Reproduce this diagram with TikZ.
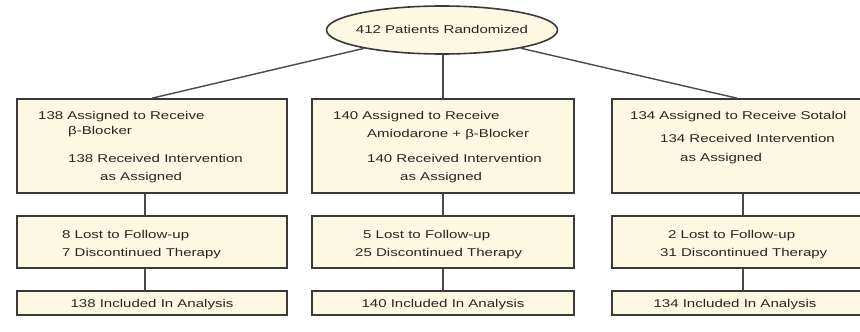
\documentclass[tikz,border=0pt]{standalone}
\usepackage{fontspec}
\setmainfont{Liberation Sans}[FakeStretch=1.33]
\usetikzlibrary{shapes.geometric}
\definecolor{boxfill}{HTML}{FDF8E2}
\definecolor{boxline}{HTML}{3A3A3A}
\definecolor{conn}{HTML}{4A4A4A}
\tikzset{
  flowbox/.style={draw=boxline, line width=1.6pt, fill=boxfill, inner sep=0pt},
  txt/.style={anchor=base west, inner sep=0pt, font=\fontsize{11.3}{13}\selectfont, text=black!85},
  ctxt/.style={anchor=base, inner sep=0pt, font=\fontsize{11.3}{13}\selectfont, text=black!85},
  link/.style={draw=conn, line width=1.4pt}
}
\begin{document}
\begin{tikzpicture}[x=1pt,y=-1pt]
\useasboundingbox (0,0) rectangle (860,332);
% ellipse
\node[flowbox, ellipse, minimum width=231pt, minimum height=48pt] (e) at (442,30) {};
\node[ctxt] (et) at (442,34) {412 Patients Randomized};
% row 1 boxes
\node[flowbox, minimum width=270pt, minimum height=94pt] (b11) at (152,146) {};
\node[flowbox, minimum width=262pt, minimum height=94pt] (b21) at (443,146) {};
\node[flowbox, minimum width=256pt, minimum height=94pt] (b31) at (740,146) {};
% row 2 boxes
\node[flowbox, minimum width=270pt, minimum height=52pt] (b12) at (152,242) {};
\node[flowbox, minimum width=262pt, minimum height=52pt] (b22) at (443,242) {};
\node[flowbox, minimum width=256pt, minimum height=52pt] (b32) at (740,242) {};
% row 3 boxes
\node[flowbox, minimum width=270pt, minimum height=24pt] (b13) at (152,303) {};
\node[flowbox, minimum width=262pt, minimum height=24pt] (b23) at (443,303) {};
\node[flowbox, minimum width=256pt, minimum height=24pt] (b33) at (740,303) {};
% connectors
\draw[link] (e) -- (b11.north);
\draw[link] ([xshift=1pt]e.south) -- (b21.north);
\draw[link] (e) -- ([xshift=-3pt]b31.north);
\draw[link] ([xshift=-7pt]b11.south) -- ([xshift=-7pt]b12.north);
\draw[link] ([xshift=-7pt]b12.south) -- ([xshift=-7pt]b13.north);
\draw[link] (b21.south) -- (b22.north);
\draw[link] (b22.south) -- (b23.north);
\draw[link] ([xshift=3pt]b31.south) -- ([xshift=3pt]b32.north);
\draw[link] ([xshift=3pt]b32.south) -- ([xshift=3pt]b33.north);
% text box 1
\node[txt] (t11a) at (38,119) {138 Assigned to Receive};
\node[txt] (t11b) at (68,134) {β-Blocker};
\node[txt] (t11c) at (68,162) {138 Received Intervention};
\node[txt] (t11d) at (100,180) {as Assigned};
\node[txt] (t21a) at (333,119) {140 Assigned to Receive};
\node[txt] (t21b) at (367,137) {Amiodarone + β-Blocker};
\node[txt] (t21c) at (367,162) {140 Received Intervention};
\node[txt] (t21d) at (400,180) {as Assigned};
\node[txt] (t31a) at (630,119) {134 Assigned to Receive Sotalol};
\node[txt] (t31b) at (660,142) {134 Received Intervention};
\node[txt] (t31c) at (680,161) {as Assigned};
% text box 2
\node[txt] (t12a) at (62,238) {8 Lost to Follow-up};
\node[txt] (t12b) at (62,256) {7 Discontinued Therapy};
\node[txt] (t22a) at (363,238) {5 Lost to Follow-up};
\node[txt] (t22b) at (355,256) {25 Discontinued Therapy};
\node[txt] (t32a) at (668,238) {2 Lost to Follow-up};
\node[txt] (t32b) at (660,256) {31 Discontinued Therapy};
% text box 3
\node[ctxt] (t13) at (152,307) {138 Included In Analysis};
\node[ctxt] (t23) at (443,307) {140 Included In Analysis};
\node[ctxt] (t33) at (735,307) {134 Included In Analysis};
\end{tikzpicture}
\end{document}
